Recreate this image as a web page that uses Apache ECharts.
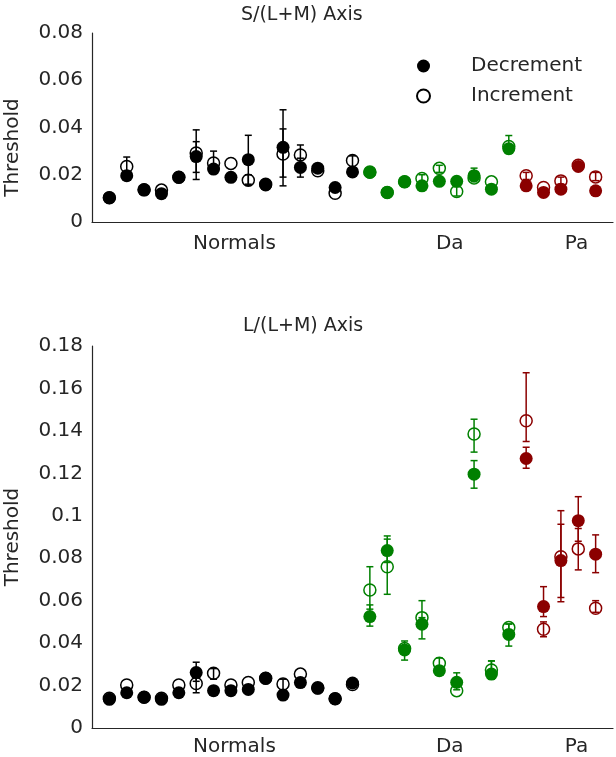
<!DOCTYPE html>
<html><head><meta charset="utf-8">
<script src="https://cdn.jsdelivr.net/npm/echarts@6/dist/echarts.min.js"></script>
<style>html,body{margin:0;padding:0;background:#fff}#c{width:616px;height:757px}</style>
</head><body><div id="c"></div>
<script>
// ---- data ----
const groupNames = ['Normals', 'Da', 'Pa'];
const groupSizes = [15, 9, 5];
const groupColors = ['#000000', '#008000', '#8b0000'];
const groupLabelAt = [7.2, 19.6, 26.9];

const topTitle = 'S/(L+M) Axis';
const bottomTitle = 'L/(L+M) Axis';

// S/(L+M) thresholds
const sDec = [0.0103, 0.0196, 0.0136, 0.0120, 0.0189, 0.0277, 0.0224, 0.0189, 0.0264, 0.0157, 0.0316, 0.0231, 0.0228, 0.0146, 0.0212,
              0.0210, 0.0125, 0.0170, 0.0153, 0.0172, 0.0172, 0.0196, 0.0139, 0.0310,
              0.0153, 0.0125, 0.0139, 0.0235, 0.0132];
const sInc = [0.0103, 0.0235, 0.0136, 0.0135, 0.0189, 0.0292, 0.0250, 0.0248, 0.0177, 0.0160, 0.0288, 0.0284, 0.0217, 0.0122, 0.0260,
              0.0212, 0.0125, 0.0170, 0.0184, 0.0227, 0.0129, 0.0186, 0.0170, 0.0320,
              0.0196, 0.0146, 0.0174, 0.0240, 0.0191];
const sDecErr = [null, null, null, null, null, [0.021, 0.034], null, null, [0.016, 0.0367], null, [0.0153, 0.0475], [0.019, 0.027], null, null, null,
                 null, null, null, null, null, null, [0.018, 0.0228], null, [0.029, 0.0366],
                 null, null, null, null, null];
const sIncErr = [null, [0.020, 0.0275], null, null, null, [0.018, 0.039], [0.021, 0.030], null, [0.0155, 0.020], null, [0.019, 0.0394], [0.0245, 0.0326], null, null, [0.023, 0.028],
                 null, null, null, [0.017, 0.020], [0.021, 0.024], [0.011, 0.015], [0.017, 0.020], null, null,
                 [0.018, 0.021], null, [0.016, 0.019], null, [0.0175, 0.021]];

// L/(L+M) thresholds
const lDec = [0.0135, 0.0166, 0.0145, 0.0135, 0.0166, 0.0261, 0.0176, 0.0176, 0.0182, 0.0234, 0.0155, 0.0214, 0.0187, 0.0138, 0.0212,
              0.0525, 0.0836, 0.0368, 0.0489, 0.0270, 0.0215, 0.1196, 0.0254, 0.0441,
              0.1270, 0.0572, 0.0789, 0.0977, 0.0819];
const lInc = [0.0140, 0.0203, 0.0145, 0.0140, 0.0203, 0.0210, 0.0258, 0.0203, 0.0214, 0.0234, 0.0207, 0.0254, 0.0190, 0.0138, 0.0205,
              0.0650, 0.0760, 0.0375, 0.0520, 0.0305, 0.0176, 0.1385, 0.0273, 0.0473,
              0.1448, 0.0465, 0.0807, 0.0844, 0.0564];
const lDecErr = [null, null, null, null, null, [0.022, 0.031], null, null, null, null, null, null, null, null, null,
                 [0.048, 0.058], [0.078, 0.089], [0.032, 0.041], [0.042, 0.052], null, [0.018, 0.026], [0.113, 0.126], [0.023, 0.0316], [0.0386, 0.049],
                 [0.1224, 0.1323], [0.0525, 0.0666], [0.0615, 0.096], [0.088, 0.109], [0.0732, 0.091]];
const lIncErr = [null, null, null, null, null, [0.0166, 0.024], [0.023, 0.028], null, null, null, [0.018, 0.023], null, null, null, null,
                 [0.056, 0.076], [0.063, 0.0905], null, [0.047, 0.060], [0.027, 0.033], null, [0.130, 0.1455], [0.0245, 0.0316], [0.0435, 0.049],
                 [0.135, 0.1674], [0.043, 0.050], [0.0595, 0.1024], [0.0745, 0.094], [0.0545, 0.060]];

// ---- build ----
const groupOf = [];
groupSizes.forEach((n, g) => { for (let k = 0; k < n; k++) groupOf.push(g); });

const FONT = 'DejaVu Sans';
const TXT = '#262626';

function filledData(vals) {
  return vals.map((v, i) => ({ value: [i, v], itemStyle: { color: groupColors[groupOf[i]] } }));
}
function openData(vals) {
  return vals.map((v, i) => ({ value: [i, v], itemStyle: { color: 'rgba(255,255,255,0)', borderColor: groupColors[groupOf[i]] } }));
}
function errData(errs) {
  const out = [];
  errs.forEach((e, i) => { if (e) out.push([i, e[0], e[1], groupOf[i]]); });
  return out;
}
function renderErr(params, api) {
  const x = api.value(0);
  const p1 = api.coord([x, api.value(1)]);
  const p2 = api.coord([x, api.value(2)]);
  const c = groupColors[api.value(3)];
  const w = 3.5;
  const st = { stroke: c, lineWidth: 1.5 };
  return {
    type: 'group',
    children: [
      { type: 'line', shape: { x1: p1[0], y1: p1[1], x2: p2[0], y2: p2[1] }, style: st },
      { type: 'line', shape: { x1: p1[0] - w, y1: p1[1], x2: p1[0] + w, y2: p1[1] }, style: st },
      { type: 'line', shape: { x1: p2[0] - w, y1: p2[1], x2: p2[0] + w, y2: p2[1] }, style: st }
    ]
  };
}

function xAxis(gi, margin) {
  return {
    type: 'value', gridIndex: gi, min: -1, max: 29,
    splitLine: { show: false },
    axisLine: { show: true, onZero: false, lineStyle: { color: TXT, width: 1.2 } },
    axisTick: { show: false },
    axisLabel: {
      customValues: groupLabelAt,
      margin: margin,
      fontSize: 20, color: TXT, fontFamily: FONT,
      formatter: v => {
        let best = 0;
        groupLabelAt.forEach((p, k) => { if (Math.abs(p - v) < Math.abs(groupLabelAt[best] - v)) best = k; });
        return groupNames[best];
      }
    }
  };
}
function yAxis(gi, max, namePad) {
  return {
    type: 'value', gridIndex: gi, min: 0, max: max, interval: 0.02,
    name: 'Threshold', nameLocation: 'middle', nameGap: 69, nameRotate: 90,
    nameTextStyle: { fontSize: 20, color: TXT, fontFamily: FONT, padding: namePad },
    splitLine: { show: false },
    axisLine: { show: true, onZero: false, lineStyle: { color: TXT, width: 1.2 } },
    axisTick: { show: false },
    axisLabel: { margin: 9, fontSize: 20, color: TXT, fontFamily: FONT }
  };
}

const chart = echarts.init(document.getElementById('c'), null, { renderer: 'canvas' });
chart.setOption({
  animation: false,
  backgroundColor: '#fff',
  title: [
    { text: topTitle, left: 236, top: 1, textStyle: { fontSize: 19, fontWeight: 'normal', color: TXT, fontFamily: FONT } },
    { text: bottomTitle, left: 238, top: 312, textStyle: { fontSize: 19, fontWeight: 'normal', color: TXT, fontFamily: FONT } }
  ],
  legend: {
    orient: 'vertical', left: 411, top: 51, itemWidth: 13, itemHeight: 13, itemGap: 10,
    data: ['Decrement', 'Increment'],
    textStyle: { fontSize: 20, color: TXT, fontFamily: FONT, padding: [0, 0, 0, 36] }
  },
  grid: [
    { left: 92, right: 3, top: 33, height: 189, outerBoundsMode: 'none', containLabel: false },
    { left: 92, right: 3, top: 346, height: 382, outerBoundsMode: 'none', containLabel: false }
  ],
  xAxis: [xAxis(0, 12), xAxis(1, 9)],
  yAxis: [yAxis(0, 0.08, [0, 40, 0, 0]), yAxis(1, 0.18, [0, 0, 0, 0])],
  series: [
    { name: 'Decrement', type: 'scatter', xAxisIndex: 0, yAxisIndex: 0, symbol: 'circle', symbolSize: 13,
      itemStyle: { color: '#000', opacity: 1 }, data: filledData(sDec), z: 2 },
    { name: 'Increment', type: 'scatter', xAxisIndex: 0, yAxisIndex: 0, symbol: 'circle', symbolSize: 12,
      itemStyle: { color: 'rgba(255,255,255,0)', borderColor: '#000', borderWidth: 1.5, opacity: 1 }, data: openData(sInc), z: 3 },
    { name: 'errS1', type: 'custom', xAxisIndex: 0, yAxisIndex: 0, renderItem: renderErr, data: errData(sDecErr), z: 4, encode: { x: 0, y: [1, 2] } },
    { name: 'errS2', type: 'custom', xAxisIndex: 0, yAxisIndex: 0, renderItem: renderErr, data: errData(sIncErr), z: 4, encode: { x: 0, y: [1, 2] } },
    { name: 'Decrement', type: 'scatter', xAxisIndex: 1, yAxisIndex: 1, symbol: 'circle', symbolSize: 13,
      itemStyle: { color: '#000', opacity: 1 }, data: filledData(lDec), z: 2 },
    { name: 'Increment', type: 'scatter', xAxisIndex: 1, yAxisIndex: 1, symbol: 'circle', symbolSize: 12,
      itemStyle: { color: 'rgba(255,255,255,0)', borderColor: '#000', borderWidth: 1.5, opacity: 1 }, data: openData(lInc), z: 3 },
    { name: 'errL1', type: 'custom', xAxisIndex: 1, yAxisIndex: 1, renderItem: renderErr, data: errData(lDecErr), z: 4, encode: { x: 0, y: [1, 2] } },
    { name: 'errL2', type: 'custom', xAxisIndex: 1, yAxisIndex: 1, renderItem: renderErr, data: errData(lIncErr), z: 4, encode: { x: 0, y: [1, 2] } }
  ]
});
</script>
</body></html>
